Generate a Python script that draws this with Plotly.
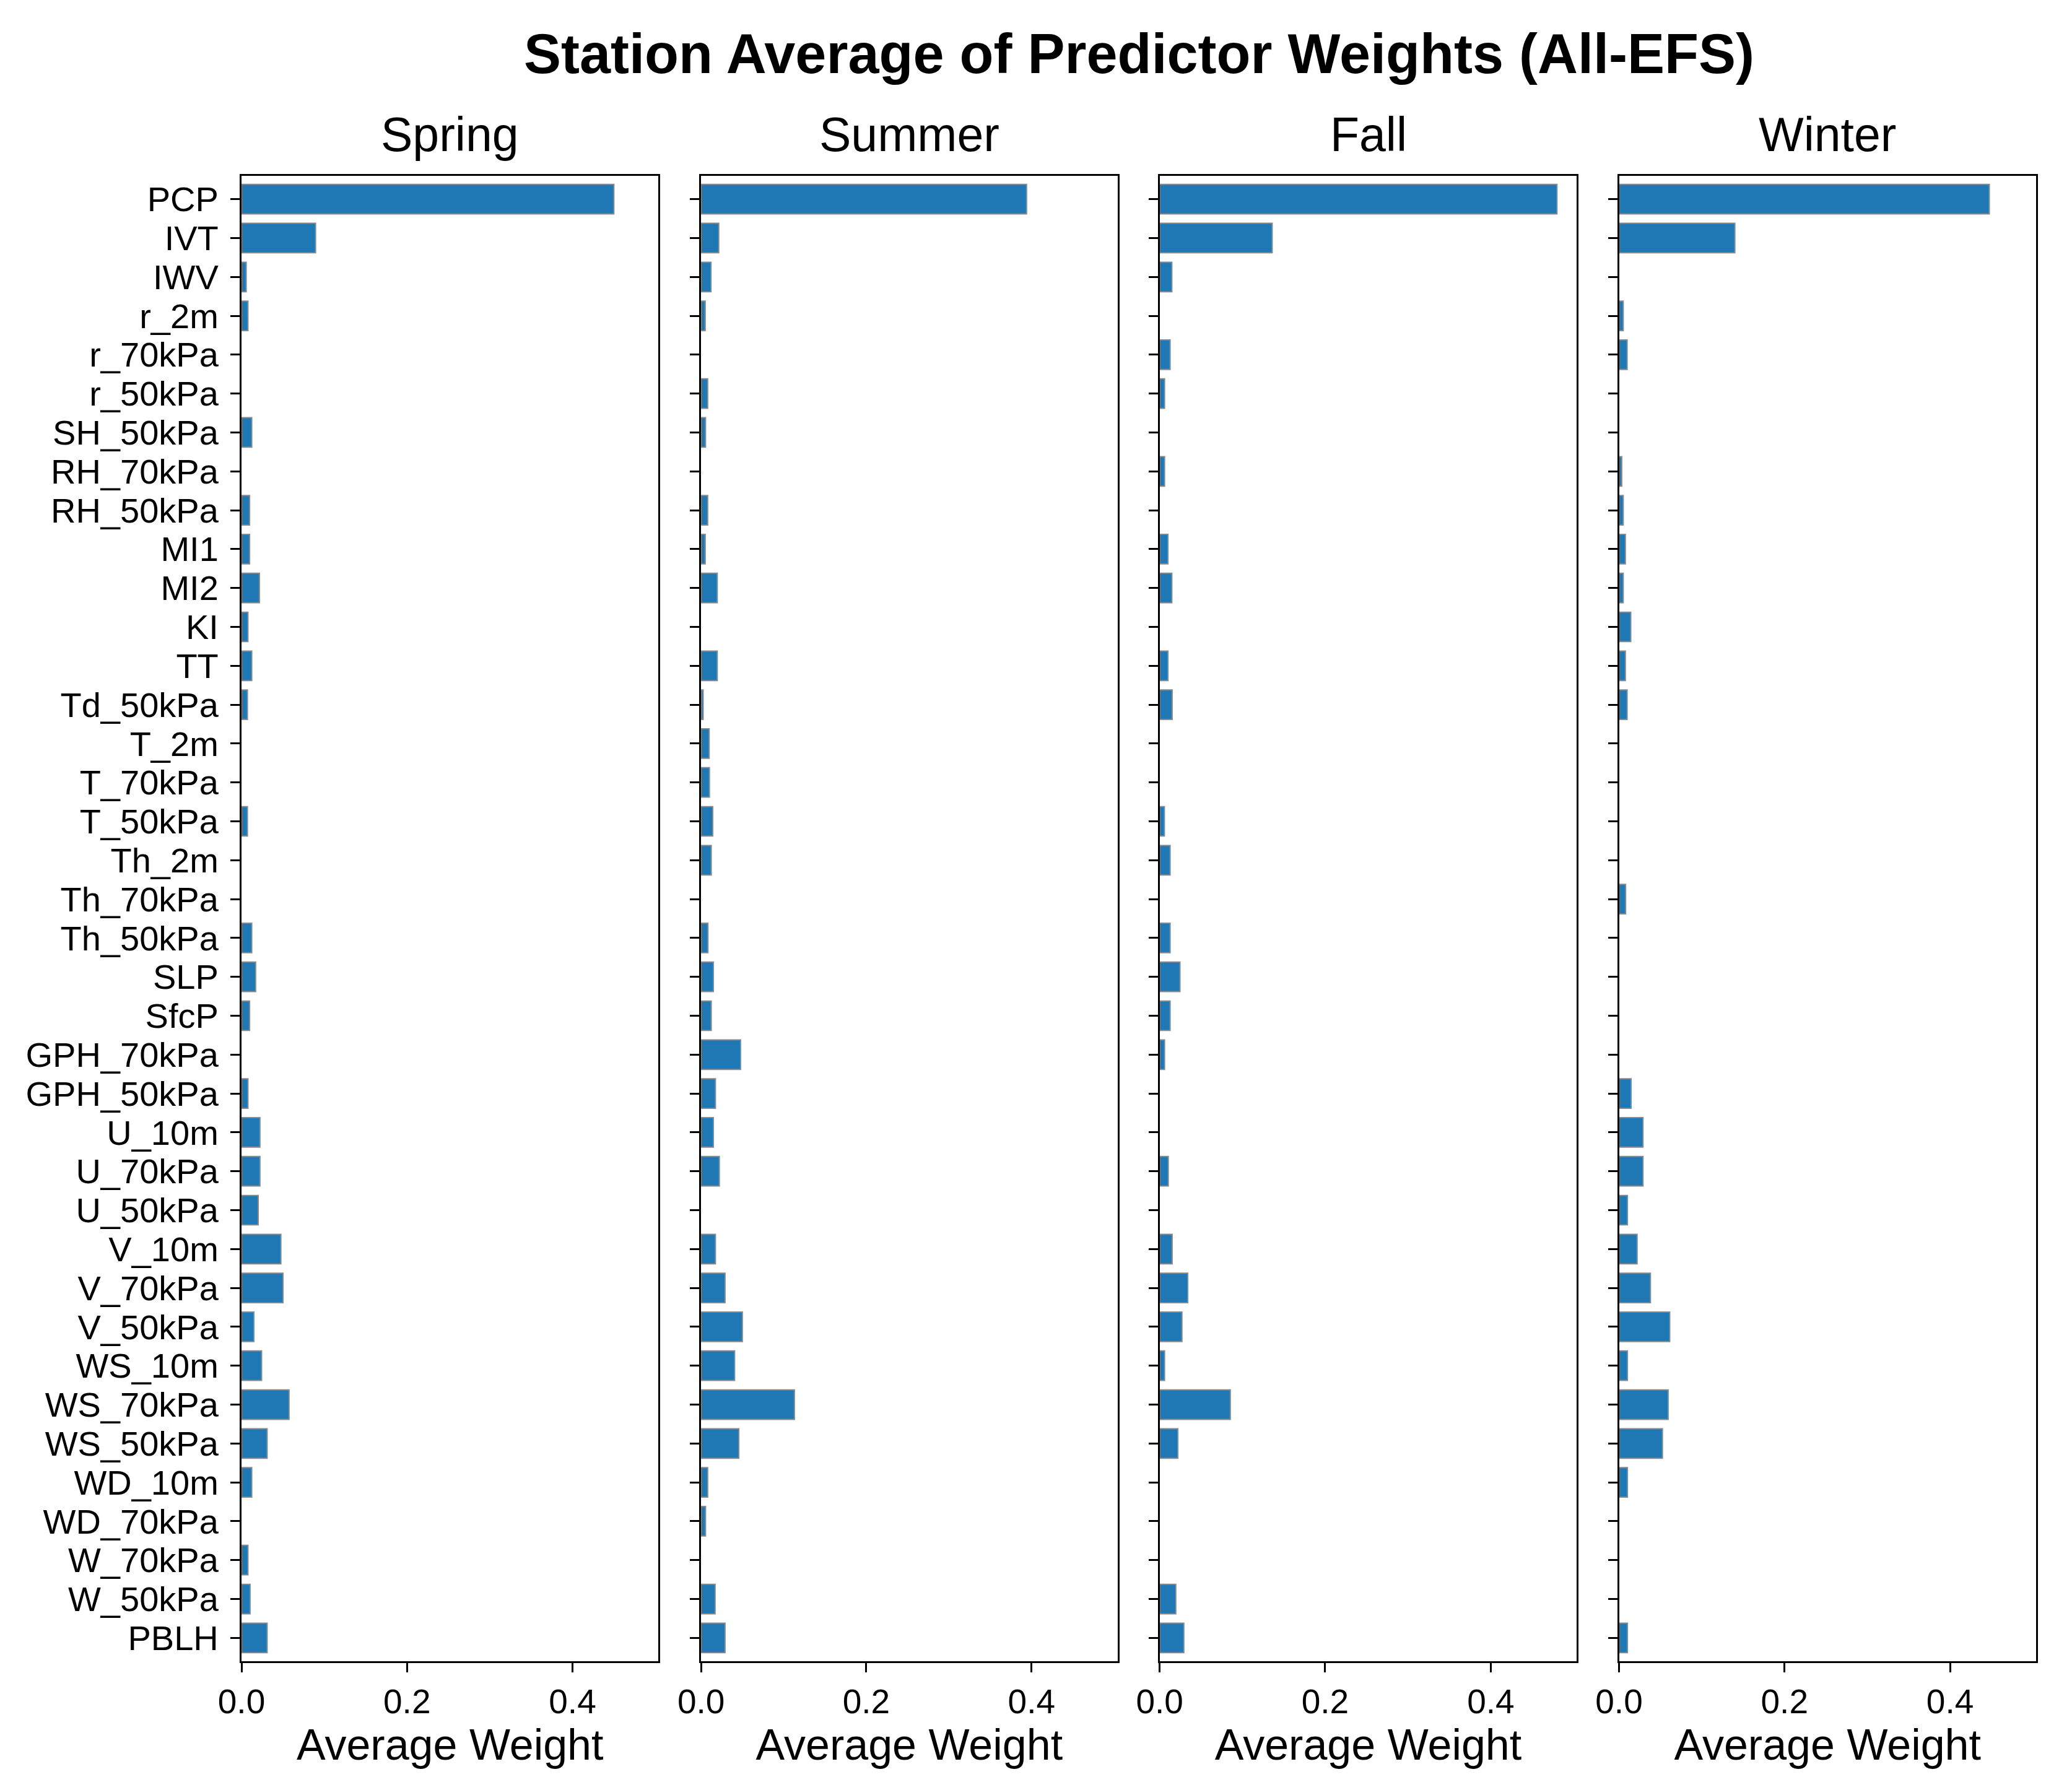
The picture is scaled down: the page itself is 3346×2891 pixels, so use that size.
import plotly.graph_objects as go

predictors = ["PCP", "IVT", "IWV", "r_2m", "r_70kPa", "r_50kPa", "SH_50kPa", "RH_70kPa",
              "RH_50kPa", "MI1", "MI2", "KI", "TT", "Td_50kPa", "T_2m", "T_70kPa", "T_50kPa",
              "Th_2m", "Th_70kPa", "Th_50kPa", "SLP", "SfcP", "GPH_70kPa", "GPH_50kPa",
              "U_10m", "U_70kPa", "U_50kPa", "V_10m", "V_70kPa", "V_50kPa", "WS_10m",
              "WS_70kPa", "WS_50kPa", "WD_10m", "WD_70kPa", "W_70kPa", "W_50kPa", "PBLH"]

spring = [0.450, 0.0895, 0.0057, 0.0078, 0.0, 0.0, 0.0124, 0.0,
          0.0098, 0.0098, 0.0217, 0.0078, 0.0124, 0.0072, 0.0, 0.0, 0.0072,
          0.0, 0.0, 0.0124, 0.0171, 0.0098, 0.0, 0.0078,
          0.0223, 0.0223, 0.0202, 0.0476, 0.0502, 0.0150, 0.0243,
          0.0575, 0.0310, 0.0124, 0.0, 0.0078, 0.0104, 0.0310]

summer = [0.394, 0.0214, 0.0120, 0.0050, 0.0, 0.0080, 0.0054, 0.0,
          0.0080, 0.0050, 0.0196, 0.0, 0.0196, 0.0025, 0.0098, 0.0101, 0.0141,
          0.0123, 0.0, 0.0083, 0.0149, 0.0123, 0.0478, 0.0174,
          0.0149, 0.0221, 0.0, 0.0174, 0.0290, 0.0500, 0.0406,
          0.1130, 0.0457, 0.0080, 0.0054, 0.0, 0.0170, 0.0290]

fall = [0.480, 0.136, 0.0148, 0.0, 0.0127, 0.0060, 0.0, 0.0060,
        0.0, 0.0101, 0.0148, 0.0, 0.0101, 0.0152, 0.0, 0.0, 0.0058,
        0.0127, 0.0, 0.0127, 0.0246, 0.0127, 0.0060, 0.0,
        0.0, 0.0105, 0.0, 0.0152, 0.0340, 0.0270, 0.0060,
        0.0854, 0.0220, 0.0, 0.0, 0.0, 0.0196, 0.0293]

winter = [0.4475, 0.140, 0.0, 0.0051, 0.0098, 0.0, 0.0, 0.0033,
          0.0051, 0.0077, 0.0051, 0.0142, 0.0077, 0.0098, 0.0, 0.0, 0.0,
          0.0, 0.0080, 0.0, 0.0, 0.0, 0.0, 0.0146,
          0.0290, 0.0290, 0.0102, 0.0219, 0.0380, 0.0613, 0.0102,
          0.0594, 0.0525, 0.0102, 0.0, 0.0, 0.0, 0.0102]

seasons = ["Spring", "Summer", "Fall", "Winter"]
series = [spring, summer, fall, winter]
x_ticks = [0.0, 0.2, 0.4]
x_tick_text = ["0.0", "0.2", "0.4"]

FONT = "Liberation Sans, Arial, sans-serif"
W, H = 3346, 2891
domains = [[0.0, 0.2324], [0.2561, 0.4881], [0.5116, 0.7441], [0.7676, 1.0]]

fig = go.Figure()
for i, (name, vals) in enumerate(zip(seasons, series)):
    sfx = "" if i == 0 else str(i + 1)
    fig.add_trace(go.Bar(
        x=vals, y=predictors, orientation="h",
        xaxis="x" + sfx, yaxis="y" + sfx,
        width=0.76,
        marker=dict(color="#1f77b4",
                    line=dict(color="#8a8a8a", width=[2 if v > 0 else 0 for v in vals])),
        showlegend=False,
    ))
    fig.layout["xaxis" + sfx] = dict(
        domain=domains[i], anchor="y" + sfx, range=[0, 0.504],
        tickmode="array", tickvals=x_ticks, ticktext=x_tick_text,
        ticks="outside", ticklen=15, tickwidth=3, tickcolor="black",
        showline=True, mirror=True, linecolor="black", linewidth=3,
        showgrid=False, zeroline=False,
        tickfont=dict(size=55, color="black", family=FONT),
        title=dict(text="Average Weight", font=dict(size=70, color="black", family=FONT), standoff=12),
    )
    fig.layout["yaxis" + sfx] = dict(
        anchor="x" + sfx, type="category", categoryorder="array", categoryarray=predictors,
        tickmode="array", tickvals=predictors, ticktext=predictors,
        range=[37.6, -0.6],
        ticks="outside", ticklen=15, tickwidth=3, tickcolor="black",
        showline=True, mirror=True, linecolor="black", linewidth=3,
        showgrid=False, zeroline=False, showticklabels=(i == 0),
        ticklabelstandoff=8,
        tickfont=dict(size=56, color="black", family=FONT),
    )
    fig.add_annotation(
        text=name, xref="paper", yref="paper",
        x=(domains[i][0] + domains[i][1]) / 2, y=1.0,
        xanchor="center", yanchor="bottom", yshift=22, showarrow=False,
        font=dict(size=77, color="black", family=FONT),
    )

fig.add_annotation(
    text="<b>Station Average of Predictor Weights (All-EFS)</b>",
    xref="paper", yref="paper", x=0.5, y=1.0, xanchor="center", yanchor="bottom",
    yshift=145, showarrow=False,
    font=dict(size=90, color="black", family=FONT),
)

fig.update_layout(
    width=W, height=H,
    margin=dict(l=382, r=66, t=276, b=216),
    paper_bgcolor="white", plot_bgcolor="white",
    bargap=0.24,
    font=dict(family=FONT, color="black"),
)

fig.write_html("out.html")
